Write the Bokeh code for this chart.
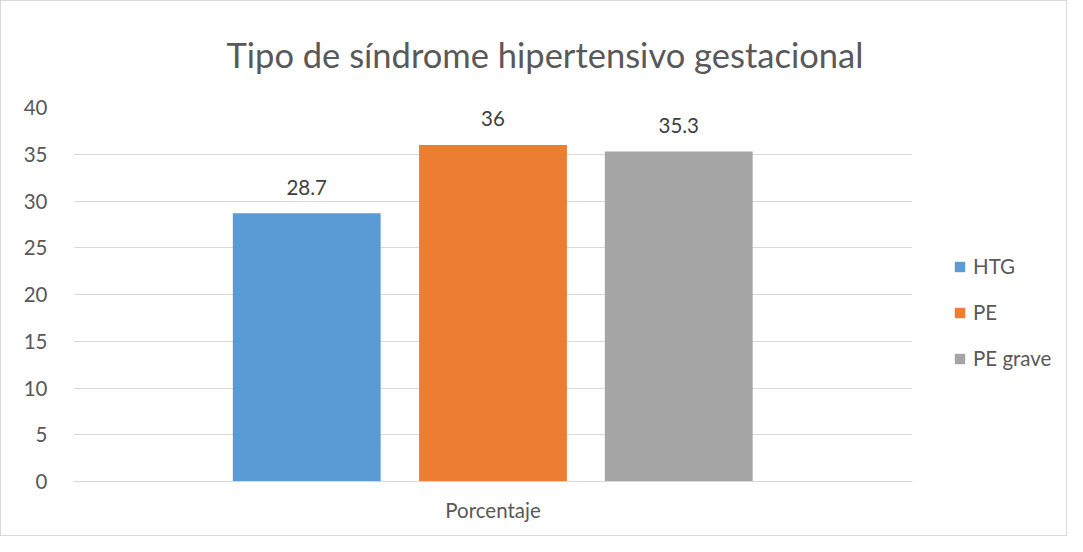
from bokeh.plotting import figure
from bokeh.models import ColumnDataSource, FactorRange, Range1d, Legend, LegendItem, LabelSet
from bokeh.layouts import row
from bokeh.transform import dodge
from bokeh.embed import file_html
from bokeh.resources import INLINE
from bokeh.core.properties import value

# Data
group = ["Porcentaje"]
series = ["HTG", "PE", "PE grave"]
htg = [28.7]
pe = [36]
pe_grave = [35.3]
y_ticks = [0, 5, 10, 15, 20, 25, 30, 35, 40]
title_text = "Tipo de síndrome hipertensivo gestacional"

colors = ["#5B9BD5", "#ED7D31", "#A5A5A5"]
offsets = [-0.222, 0.0, 0.2214]
FONT = "Lato"
FS = "20.5px"

source = ColumnDataSource(dict(
    cat=group,
    HTG=htg, PE=pe, PE_grave=pe_grave,
    HTG_t=[f"{v:g}" for v in htg],
    PE_t=[f"{v:g}" for v in pe],
    PE_grave_t=[f"{v:g}" for v in pe_grave],
))
cols = ["HTG", "PE", "PE_grave"]

p = figure(width=929, height=534, x_range=FactorRange(factors=group, range_padding=0),
           y_range=Range1d(0, 40), output_backend="svg", toolbar_location=None,
           min_border_left=72, min_border_right=18, min_border_top=106, min_border_bottom=54)
p.outline_line_color = None

for i, c in enumerate(cols):
    p.vbar(x=dodge("cat", offsets[i], range=p.x_range), top=c, width=0.1762,
           source=source, color=colors[i], line_color=None)
    lab = LabelSet(x=dodge("cat", offsets[i], range=p.x_range), y=c, text=c + "_t",
                   source=source, text_align="center", text_baseline="middle", y_offset=26,
                   text_font=value(FONT), text_font_size=FS, text_color="#404040")
    p.add_layout(lab)

# Axes
p.yaxis.ticker = y_ticks
p.yaxis.axis_line_color = None
p.yaxis.major_tick_line_color = None
p.yaxis.minor_tick_line_color = None
p.yaxis.major_label_standoff = 20
p.yaxis.major_label_text_font = FONT
p.yaxis.major_label_text_font_size = FS
p.yaxis.major_label_text_color = "#595959"

p.xaxis.axis_line_color = "#D9D9D9"
p.xaxis.axis_line_width = 1
p.xaxis.major_tick_line_color = None
p.xaxis.minor_tick_line_color = None
p.xaxis.major_label_standoff = 10
p.xaxis.major_label_text_font = FONT
p.xaxis.major_label_text_font_size = FS
p.xaxis.major_label_text_color = "#595959"

p.xgrid.grid_line_color = None
p.ygrid.grid_line_color = "#D9D9D9"
p.ygrid.grid_line_width = 1

# Title
p.title.text = title_text
p.title.align = "left"
p.title.vertical_align = "top"
p.title.text_font = FONT
p.title.text_font_size = "34.5px"
p.title.text_font_style = "normal"
p.title.text_color = "#595959"
p.title.offset = 153
p.title.standoff = 62

# Legend panel (separate figure holding only the legend; its bars fall outside its y range)
p2 = figure(width=136, height=534, x_range=p.x_range, y_range=Range1d(100, 140),
            output_backend="svg", toolbar_location=None,
            x_axis_location=None, y_axis_location=None,
            min_border_left=0, min_border_right=0, min_border_top=0, min_border_bottom=0)
p2.outline_line_color = None
p2.grid.visible = False
leg_renderers = [p2.vbar(x=dodge("cat", offsets[i], range=p.x_range), top=c, width=0.0001,
                         source=source, color=colors[i], line_color=None)
                 for i, c in enumerate(cols)]
legend = Legend(items=[LegendItem(label=s, renderers=[leg_renderers[i]]) for i, s in enumerate(series)],
                location=(23, 111), orientation="vertical",
                glyph_width=13, glyph_height=13, label_height=20, spacing=22,
                padding=0, margin=0, border_line_color=None, background_fill_alpha=0,
                label_text_font=FONT, label_text_font_size=FS, label_text_color="#595959",
                label_standoff=7)
p2.add_layout(legend, "center")

layout = row(p, p2, spacing=0)
layout.styles = {"border": "1px solid #D9D9D9"}

open("out.html", "w").write(file_html(layout, INLINE))
